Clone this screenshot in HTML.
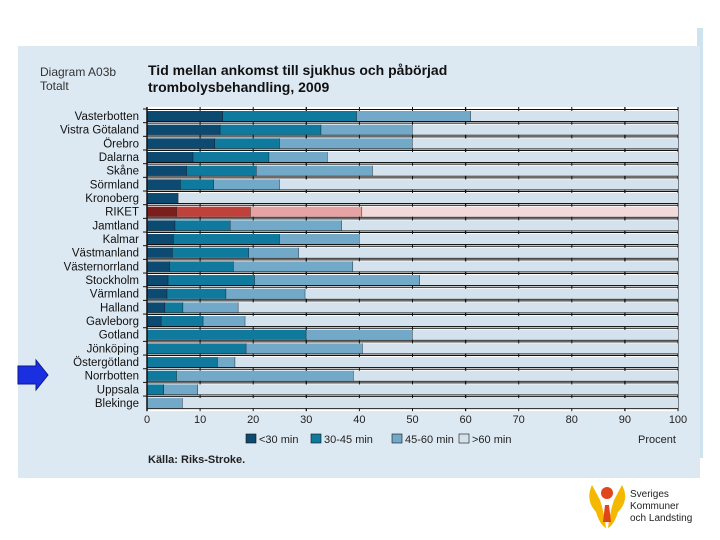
<!DOCTYPE html>
<html><head><meta charset="utf-8"><style>
html,body{margin:0;padding:0;background:#fff;width:720px;height:540px;overflow:hidden;font-family:"Liberation Sans",sans-serif}
</style></head><body>
<svg width="720" height="540" xmlns="http://www.w3.org/2000/svg">
<rect x="697" y="28" width="6" height="430" fill="#cfe3ee"/>
<rect x="18" y="46" width="682" height="432" fill="#dde9f2"/>
<text x="40" y="76" font-size="12" fill="#333">Diagram A03b</text>
<text x="40" y="90" font-size="12" fill="#333">Totalt</text>
<text x="148" y="75" font-size="14" font-weight="bold" fill="#111">Tid mellan ankomst till sjukhus och påbörjad</text>
<text x="148" y="92" font-size="14" font-weight="bold" fill="#111">trombolysbehandling, 2009</text>
<g id="plot"></g>
<g>
<rect x="246" y="434" width="10" height="9" fill="#0d4a72" stroke="#111" stroke-width="0.6"/><text x="259" y="443" font-size="11" fill="#222">&lt;30 min</text>
<rect x="311" y="434" width="10" height="9" fill="#10799e" stroke="#111" stroke-width="0.6"/><text x="324" y="443" font-size="11" fill="#222">30-45 min</text>
<rect x="392" y="434" width="10" height="9" fill="#72a9c8" stroke="#111" stroke-width="0.6"/><text x="405" y="443" font-size="11" fill="#222">45-60 min</text>
<rect x="459" y="434" width="10" height="9" fill="#d3e2ec" stroke="#111" stroke-width="0.6"/><text x="472" y="443" font-size="11" fill="#222">&gt;60 min</text>
</g>
<text x="638" y="443" font-size="11" fill="#222">Procent</text>
<text x="148" y="463" font-size="11" font-weight="bold" fill="#222">Källa: Riks-Stroke.</text>
<path d="M18 366 H36 V360 L48 375 L36 390 V384 H18 Z" fill="#1a2fe0" stroke="#0a1a90" stroke-width="1"/>
<g>
<path d="M592 485 Q585 500 596 512 Q600 525 606 528 Q604 512 600 500 Z" fill="#f5b800"/>
<path d="M622 485 Q630 500 618 512 Q614 525 608 528 Q610 512 614 500 Z" fill="#f5b800"/>
<circle cx="607" cy="493" r="6" fill="#e0451c"/>
<path d="M605 505 L609 505 L611 522 L603 522 Z" fill="#e0451c"/>
<text x="630" y="497" font-size="10" fill="#222">Sveriges</text>
<text x="630" y="509" font-size="10" fill="#222">Kommuner</text>
<text x="630" y="521" font-size="10" fill="#222">och Landsting</text>
</g>
</svg>
<script>
const regions=["Vasterbotten","Vistra Götaland","Örebro","Dalarna","Skåne","Sörmland","Kronoberg","RIKET","Jamtland","Kalmar","Västmanland","Västernorrland","Stockholm","Värmland","Halland","Gavleborg","Gotland","Jönköping","Östergötland","Norrbotten","Uppsala","Blekinge"];
const lt30=[14.3,13.8,12.8,8.7,7.5,6.3,5.9,5.6,5.3,5.0,4.8,4.3,4.0,3.8,3.4,2.7,0,0,0,0,0,0];
const s30to45=[25.2,19.0,12.2,14.3,13.1,6.3,0,13.9,10.4,20.0,14.4,12.0,16.3,11.1,3.4,7.9,30.0,18.7,13.3,5.6,3.2,0];
const s45to60=[21.5,17.2,25.0,11.0,21.9,12.4,0,21.0,21.0,15.0,9.4,22.5,31.1,14.9,10.4,7.9,20.0,21.9,3.3,33.3,6.4,6.7];
const xTicks=[0,10,20,30,40,50,60,70,80,90,100];
const NS="http://www.w3.org/2000/svg";
const x0=147,x1=678,top0=111,step=13.67,bh=10;
const xs=v=>x0+(x1-x0)*v/100;
const ys=i=>top0+i*step;
const g=document.getElementById('plot');
function mk(t,a){const e=document.createElementNS(NS,t);for(const k in a)e.setAttribute(k,a[k]);g.appendChild(e);return e;}
const bgTop=ys(0)-4, bgBot=ys(regions.length-1)+bh+3;
const bg=mk('rect',{x:x0,y:bgTop,width:x1-x0,height:bgBot-bgTop,fill:'#fff'});


xTicks.forEach(t=>{
  const ln=mk('line',{x1:xs(t),x2:xs(t),y1:bgTop,y2:bgBot,stroke:'#111','stroke-width':t%30===0&&t>0?1.3:1});
  
  
  const tx=mk('text',{x:xs(t),y:423,'font-size':11,'text-anchor':'middle',fill:'#222'});
  tx.textContent=t;
  
  
});
regions.forEach((r,i)=>{
  const y=ys(i);
  [y-1.5,y+bh+0.5].forEach(yy=>{const h=mk('line',{x1:x0,x2:x1,y1:yy,y2:yy,stroke:'#111','stroke-width':1});
    
    });
});
regions.forEach((r,i)=>{
  const y=ys(i),red=r==="RIKET";
  const cols=red?['#7a1e1e','#c0403c','#e5a3a3','#f3dada']:['#0d4a72','#10799e','#72a9c8','#d3e2ec'];
  const vals=[lt30[i],s30to45[i],s45to60[i]];
  vals.push(100-vals[0]-vals[1]-vals[2]);
  const names=['lt30','30-45','45-60','gt60'];
  let c=0;
  vals.forEach((v,k)=>{
    if(v<=0)return;
    const b=mk('rect',{x:xs(c),y:y,width:xs(c+v)-xs(c),height:bh,fill:cols[k]});
    
    
    c+=v;
    if(k<3){const d=mk('line',{x1:xs(c),x2:xs(c),y1:y,y2:y+bh,stroke:'#111','stroke-width':0.8});
      
      }
  });
  const l=mk('text',{x:139,y:y+9,'font-size':11.5,'text-anchor':'end',fill:'#111'});
  l.textContent=r;
  
  
  const tk=mk('line',{x1:143,x2:x0,y1:y-2,y2:y-2,stroke:'#111'});
  
  
});
const ax=mk('line',{x1:x0,x2:x0,y1:bgTop,y2:bgBot,stroke:'#111','stroke-width':1.5});


</script>
</body></html>
